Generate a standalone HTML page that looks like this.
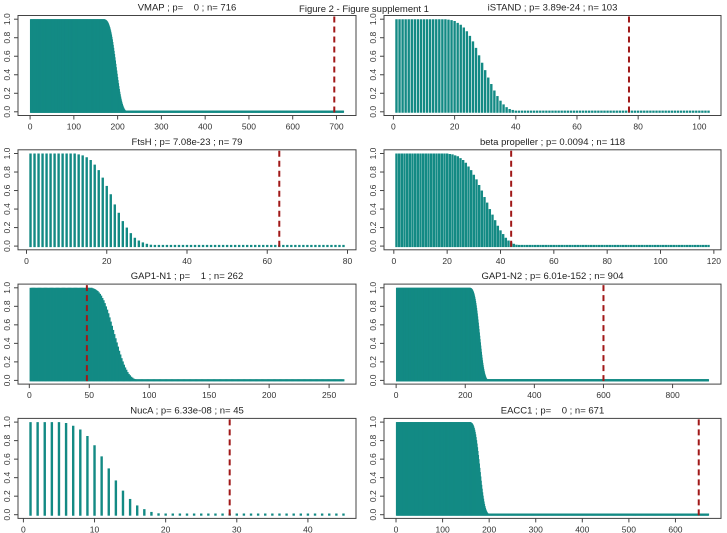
<!DOCTYPE html>
<html><head><meta charset="utf-8">
<style>
html,body{margin:0;padding:0;background:#fff;}
svg{display:block;font-family:"Liberation Sans",Arial,sans-serif;}
text{white-space:pre;}
</style></head>
<body>
<svg id="fig" width="727" height="533" viewBox="0 0 727 533">
<text x="364" y="12" text-anchor="middle" font-size="9.5" fill="#222">Figure 2 - Figure supplement 1</text>
</svg>
<script>
// ---- data ----
const panelTitles = ["VMAP ; p=    0 ; n= 716","iSTAND ; p= 3.89e-24 ; n= 103","FtsH ; p= 7.08e-23 ; n= 79","beta propeller ; p= 0.0094 ; n= 118","GAP1-N1 ; p=    1 ; n= 262","GAP1-N2 ; p= 6.01e-152 ; n= 904","NucA ; p= 6.33e-08 ; n= 45","EACC1 ; p=    0 ; n= 671"];
const panelN = [716,103,79,118,262,904,45,671];
const panelOnes = [170,17,12,20,52,215,5,160];
const panelCutoff = [695,77,63,44,48,600,29,650];
const panelXTicks = [[0,100,200,300,400,500,600,700],[0,20,40,60,80,100],[0,20,40,60,80],[0,20,40,60,80,100,120],[0,50,100,150,200,250],[0,200,400,600,800],[0,10,20,30,40],[0,100,200,300,400,500,600]];
const yTicks = [0,0.2,0.4,0.6,0.8,1.0];
const yTickLabels = ["0.0","0.2","0.4","0.6","0.8","1.0"];
const drop61 = [.998,.996,.994,.99,.986,.98,.973,.965,.955,.943,.93,.915,.898,.879,.858,.835,.81,.783,.754,.723,.691,.658,.624,.589,.554,.518,.482,.446,.411,.376,.342,.309,.277,.246,.217,.19,.165,.142,.121,.102,.085,.07,.057,.045,.035,.027,.02,.014,.01,.007,.005,.003,.002,.001,.001,0,0,0,0,0,0];
const drop51 = [.997,.994,.99,.984,.976,.966,.953,.937,.918,.895,.868,.838,.805,.768,.729,.688,.645,.6,.553,.506,.46,.413,.367,.323,.281,.242,.206,.173,.143,.117,.094,.075,.058,.045,.034,.025,.018,.013,.009,.006,.004,.002,.001,0,0,0,0,0,0,0,0];
const drop41 = [.995,.99,.985,.975,.965,.95,.935,.915,.89,.865,.835,.8,.765,.725,.68,.635,.59,.545,.5,.455,.41,.365,.32,.28,.24,.205,.17,.14,.115,.09,.07,.055,.04,.03,.02,.015,.01,.006,.004,.002,.001];
const dropIstand = [.995,.99,.98,.96,.94,.91,.87,.82,.76,.69,.61,.53,.45,.37,.30,.23,.17,.12,.08,.05,.03,.02,.01,.005];
const dropFtsh = [.99,.98,.96,.93,.88,.82,.74,.65,.56,.45,.36,.27,.20,.14,.09,.06,.04,.025,.015,.01,.005];
const dropBeta = [.995,.99,.98,.97,.95,.93,.90,.86,.82,.77,.72,.66,.60,.53,.47,.40,.34,.28,.22,.17,.13,.09,.06,.04,.025,.015,.01,.005];
const dropNuca = [.99,.96,.92,.85,.75,.63,.50,.37,.26,.17,.10,.06,.03,.015,.008];
const panelDrops = [drop61,dropIstand,dropFtsh,dropBeta,drop41,drop61,dropNuca,drop51];

const NS='http://www.w3.org/2000/svg';
const svg=document.getElementById('fig');
function mk(tag,attrs,parent){const e=document.createElementNS(NS,tag);for(const k in attrs)e.setAttribute(k,attrs[k]);(parent||svg).appendChild(e);return e;}
const colLeft=[18,384], colRight=[356,721];
const TEAL='#138a84';
for(let p=0;p<8;p++){
  const r=Math.floor(p/2), c=p%2;
  const top=15.5+134.3*r, bot=top+100, L=colLeft[c], R=colRight[c];
  const n=panelN[p];
  const vals=[];
  for(let i=0;i<panelOnes[p];i++) vals.push(1);
  for(const v of panelDrops[p]) vals.push(v);
  while(vals.length<n) vals.push(0);
  const xmin=1-0.04*(n-1), xmax=n+0.04*(n-1);
  const X=v=>L+(v-xmin)/(xmax-xmin)*(R-L);
  const Y=v=>bot-(v+0.04)/1.08*(bot-top);
  const pitch=(R-L)/(xmax-xmin);
  const g=mk('g',{});
  
  
  const t=mk('text',{x:(L+R)/2,y:top-5,'text-anchor':'middle','font-size':'9.5',fill:'#222'},g);
  t.textContent=panelTitles[p];
  
  
  const sw=n>200?pitch+0.7:2.4;
  const bars=mk('g',{stroke:TEAL,'stroke-width':sw},g);
  
  
  for(let i=0;i<n;i++){
    const x=X(i+1), y0=Y(0)+1, y1=Math.min(Y(vals[i]),Y(0)-1.2);
    const ln=mk('line',{x1:x,x2:x,y1:y0,y2:y1},bars);
    
    
  }
  const cut=mk('line',{x1:X(panelCutoff[p]),x2:X(panelCutoff[p]),y1:top+1,y2:bot-1,stroke:'#a01818','stroke-width':2,'stroke-dasharray':'6,4'},g);
  
  
  const box=mk('rect',{x:L,y:top,width:R-L,height:bot-top,fill:'none',stroke:'#444','stroke-width':1},g);
  
  
  const ax=mk('g',{'font-size':'8.5',fill:'#333',stroke:'none'},g);
  
  
  for(const tv of panelXTicks[p]){
    const x=X(tv);
    mk('line',{x1:x,x2:x,y1:bot,y2:bot+4,stroke:'#444'},ax);
    const tl=mk('text',{x:x,y:bot+14,'text-anchor':'middle'},ax);
    tl.textContent=tv;
    
    
  }
  const ay=mk('g',{'font-size':'8.5',fill:'#333'},g);
  
  
  yTicks.forEach((tv,k)=>{
    const y=Y(tv);
    mk('line',{x1:L-4,x2:L,y1:y,y2:y,stroke:'#444'},ay);
    const tx=L-8;
    const tl=mk('text',{x:tx,y:y,'text-anchor':'middle',transform:`rotate(-90 ${tx} ${y})`},ay);
    tl.textContent=yTickLabels[k];
    
    
  });
}
</script>
</body></html>
